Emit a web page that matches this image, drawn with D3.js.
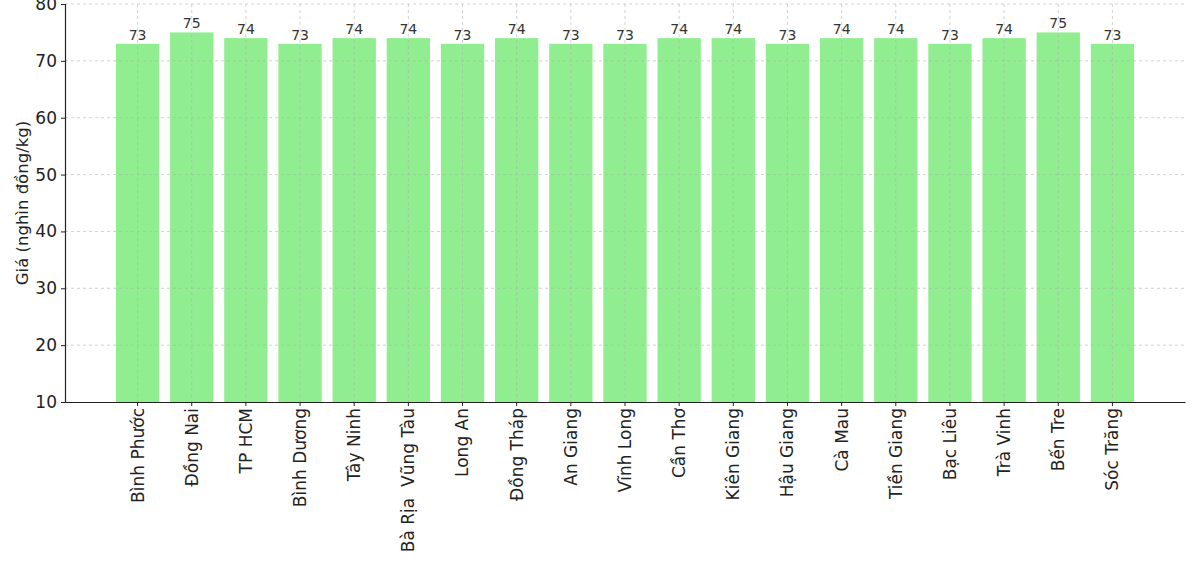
<!DOCTYPE html>
<html><head><meta charset="utf-8">
<script src="https://cdn.jsdelivr.net/npm/d3@7/dist/d3.min.js"></script>
<style>body{margin:0;background:#fff}svg{display:block;font-family:"DejaVu Sans",sans-serif}text{white-space:pre}</style>
</head><body><svg id="c" width="1200" height="564"></svg>
<script>
const provinces = ["Bình Phước","Đồng Nai","TP HCM","Bình Dương","Tây Ninh","Bà Rịa  Vũng Tàu","Long An","Đồng Tháp","An Giang","Vĩnh Long","Cần Thơ","Kiên Giang","Hậu Giang","Cà Mau","Tiền Giang","Bạc Liêu","Trà Vinh","Bến Tre","Sóc Trăng"];
const prices = [73,75,74,73,74,74,73,74,73,73,74,74,73,74,74,73,74,75,73];
const yTicks = [10,20,30,40,50,60,70,80];
const yLabel = "Giá (nghìn đồng/kg)";

const svg = d3.select("#c");
const L = 65, R = 1185, T = 4, B = 402;
const x = d3.scaleBand().domain(provinces).range([L, R]).paddingInner(0.2).paddingOuter(0.94);
const y = d3.scaleLinear().domain([10, 80]).range([B, T]);

// bars
svg.append("g").selectAll("rect").data(provinces).join("rect")
  .attr("x", d => x(d)).attr("width", x.bandwidth())
  .attr("y", (d,i) => y(prices[i])).attr("height", (d,i) => B - y(prices[i]))
  .attr("fill", "#90ee90");

// grid
const g = svg.append("g").attr("stroke", "#b0b0b0").attr("stroke-width", 0.8).attr("stroke-dasharray", "3,3").attr("opacity", 0.7);
g.selectAll(".h").data(yTicks.slice(1)).join("line")
  .attr("x1", L).attr("x2", R).attr("y1", d => y(d)).attr("y2", d => y(d));
g.selectAll(".v").data(provinces).join("line")
  .attr("x1", d => x(d) + x.bandwidth()/2).attr("x2", d => x(d) + x.bandwidth()/2).attr("y1", T).attr("y2", B);

// value labels
svg.append("g").selectAll("text").data(provinces).join("text")
  .attr("x", d => x(d) + x.bandwidth()/2).attr("y", (d,i) => y(prices[i]) - 4)
  .attr("text-anchor", "middle").attr("font-size", 14).attr("fill", "#333")
  .text((d,i) => prices[i]);

// y axis
const ya = svg.append("g").attr("transform", `translate(${L},0)`)
  .call(d3.axisLeft(y).tickValues(yTicks).tickSize(4).tickPadding(4));
ya.select(".domain").attr("stroke", "#222").attr("stroke-width", 1.2);
ya.selectAll("text").attr("font-size", 17).attr("fill", "#222").attr("font-family", "DejaVu Sans");
ya.selectAll("line").attr("stroke", "#222");

// x axis
const xa = svg.append("g").attr("transform", `translate(0,${B})`)
  .call(d3.axisBottom(x).tickSize(4).tickSizeOuter(0).tickPadding(4));
xa.select(".domain").attr("stroke", "#222").attr("stroke-width", 1.2);
xa.selectAll("line").attr("stroke", "#222");
xa.selectAll("text").attr("font-size", 17).attr("fill", "#222").attr("font-family", "DejaVu Sans")
  .attr("transform", "rotate(-90)").attr("text-anchor", "end").attr("dy", "0.35em").attr("x", -6).attr("y", 0);

// y label
svg.append("text").attr("transform", `translate(28,${(T+B)/2}) rotate(-90)`)
  .attr("text-anchor", "middle").attr("font-size", 16.5).attr("fill", "#222").text(yLabel);
</script></body></html>
